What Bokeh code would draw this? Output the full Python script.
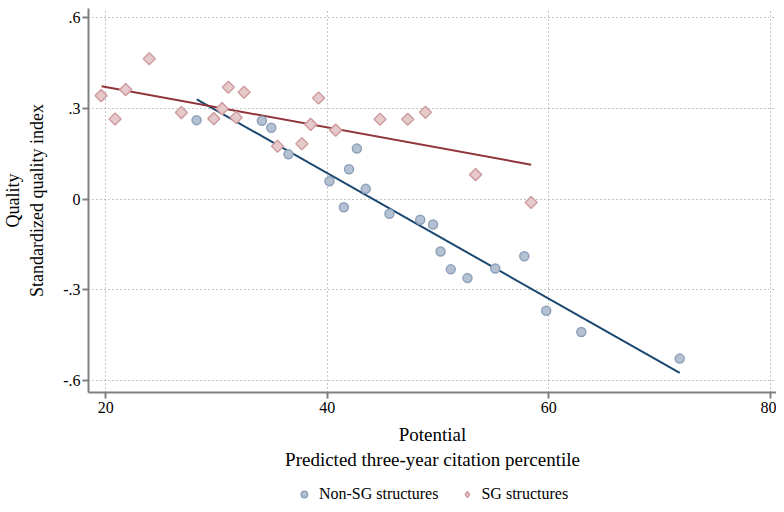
import math
from bokeh.plotting import figure
from bokeh.layouts import column
from bokeh.models import FixedTicker, Legend, LegendItem, Range1d
from bokeh.embed import file_html
from bokeh.resources import INLINE

# Non-SG structures (blue circles)
non_sg_x = [28.2, 34.1, 34.95, 36.5, 40.2, 41.5, 41.97, 42.68, 43.48, 45.62,
            48.4, 49.56, 50.24, 51.16, 52.67, 55.18, 57.8, 59.78, 62.95, 71.84]
non_sg_y = [0.261, 0.259, 0.236, 0.148, 0.059, -0.027, 0.099, 0.167, 0.034, -0.048,
            -0.068, -0.084, -0.173, -0.232, -0.261, -0.229, -0.189, -0.369, -0.439, -0.527]
# SG structures (red diamonds)
sg_x = [19.58, 20.84, 21.8, 23.93, 26.83, 29.76, 30.51, 31.07, 31.78, 32.49,
        35.51, 37.71, 38.51, 39.22, 40.76, 44.77, 47.27, 48.87, 53.4, 58.42]
sg_y = [0.342, 0.265, 0.362, 0.464, 0.286, 0.266, 0.299, 0.37, 0.27, 0.353,
        0.175, 0.183, 0.247, 0.334, 0.228, 0.264, 0.264, 0.287, 0.081, -0.011]
# Linear fits
non_sg_fit_x = [28.22, 71.84]
non_sg_fit_y = [0.330, -0.574]
sg_fit_x = [19.62, 58.42]
sg_fit_y = [0.373, 0.114]

x_ticks = [20, 40, 60, 80]
y_ticks = [-0.6, -0.3, 0, 0.3, 0.6]
y_tick_labels = ["-.6", "-.3", "0", ".3", ".6"]
series_labels = ["Non-SG structures", "SG structures"]

FONT = "Liberation Serif"
AXIS_GRAY = "#808080"
BLUE_FILL, BLUE_EDGE = "#b3c1d2", "#8fa2ba"
RED_FILL, RED_EDGE = "#e6c9ca", "#cf9ea1"

xr = Range1d(18.44, 80.58)
yr = Range1d(-0.639, 0.63)

p = figure(width=776, height=476, output_backend="svg", toolbar_location=None,
           x_range=xr, y_range=yr,
           min_border_left=85, min_border_right=0, min_border_top=8, min_border_bottom=84)
p.outline_line_color = None
p.background_fill_color = "white"
p.border_fill_color = "white"

# grid
for g in (p.xgrid, p.ygrid):
    g.grid_line_color = "#8a8a8a"
    g.grid_line_dash = "1 3"
    g.grid_line_width = 1
p.xgrid.ticker = FixedTicker(ticks=x_ticks)
p.ygrid.ticker = FixedTicker(ticks=y_ticks)

# axes
p.xaxis.ticker = FixedTicker(ticks=x_ticks)
p.yaxis.ticker = FixedTicker(ticks=y_ticks)
p.yaxis.major_label_overrides = {t: l for t, l in zip(y_ticks, y_tick_labels)}
for ax in (p.xaxis, p.yaxis):
    ax.axis_line_color = AXIS_GRAY
    ax.axis_line_width = 2
    ax.major_tick_line_color = AXIS_GRAY
    ax.major_tick_line_width = 2
    ax.major_tick_out = 6
    ax.major_tick_in = 0
    ax.minor_tick_line_color = None
    ax.major_label_text_font = FONT
    ax.major_label_text_font_size = "16px"
    ax.major_label_text_color = "black"
    ax.axis_label_text_font = FONT
    ax.axis_label_text_font_style = "normal"
    ax.axis_label_text_color = "black"
p.xaxis.axis_label_text_font_size = "19px"
p.yaxis.axis_label_text_font_size = "18px"
p.yaxis.major_label_orientation = "horizontal"
p.xaxis.axis_label = "Potential\nPredicted three-year citation percentile"
p.yaxis.axis_label = "Quality\nStandardized quality index"
p.xaxis.major_label_standoff = 3
p.xaxis.axis_label_standoff = 8
p.yaxis.major_label_standoff = 2
p.yaxis.axis_label_standoff = 13

# fit lines
p.line(non_sg_fit_x, non_sg_fit_y, line_color="#1a476f", line_width=2)
p.line(sg_fit_x, sg_fit_y, line_color="#90353b", line_width=2)

# markers
p.scatter(non_sg_x, non_sg_y, marker="circle", size=9,
          fill_color=BLUE_FILL, line_color=BLUE_EDGE, line_width=1.5)
p.scatter(sg_x, sg_y, marker="square", size=8.5, angle=math.pi / 4,
          fill_color=RED_FILL, line_color=RED_EDGE, line_width=1.5)

# legend strip below the plot
q = figure(width=776, height=28, output_backend="svg", toolbar_location=None,
           x_range=xr, y_range=yr,
           min_border_left=85, min_border_right=0, min_border_top=0, min_border_bottom=0)
q.xaxis.visible = False
q.yaxis.visible = False
q.xgrid.visible = False
q.ygrid.visible = False
q.outline_line_color = None
q.background_fill_color = "white"
q.border_fill_color = "white"
lr1 = q.scatter(non_sg_x, non_sg_y, marker="circle", size=9, visible=False,
                fill_color=BLUE_FILL, line_color=BLUE_EDGE, line_width=1.5)
lr2 = q.scatter(sg_x, sg_y, marker="diamond", size=9, visible=False,
                fill_color=RED_FILL, line_color=RED_EDGE, line_width=1.5)
legend = Legend(items=[LegendItem(label=series_labels[0], renderers=[lr1]),
                       LegendItem(label=series_labels[1], renderers=[lr2])],
                orientation="horizontal", location="bottom_center",
                label_text_font=FONT, label_text_font_size="16px",
                label_text_color="black",
                border_line_color=None, background_fill_alpha=0,
                glyph_width=16, glyph_height=20, spacing=20, padding=0,
                margin=0, label_standoff=7)
q.add_layout(legend)

layout = column(p, q, spacing=0)
open("out.html", "w").write(file_html(layout, INLINE))
